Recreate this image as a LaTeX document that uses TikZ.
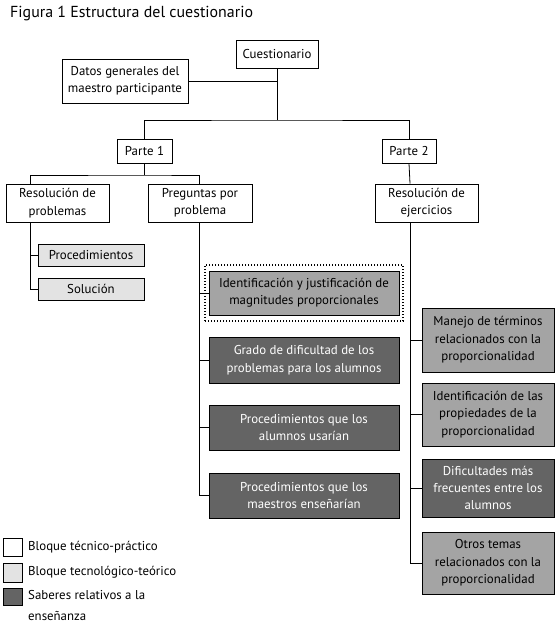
\documentclass[tikz,border=0pt]{standalone}
\usepackage{fontspec}
\setmainfont{PT Sans}
\usetikzlibrary{positioning,fit}

\definecolor{lightbox}{HTML}{E3E3E3}
\definecolor{midbox}{HTML}{A4A4A4}
\definecolor{darkbox}{HTML}{646464}

\tikzset{
  box/.style={draw, line width=0.8bp, fill=white, align=center, inner sep=0pt,
    font=\fontsize{12.9}{17.5}\selectfont},
  teo/.style={box, fill=lightbox},
  mid/.style={box, fill=midbox},
  ens/.style={box, fill=darkbox, text=white},
  conn/.style={line width=0.8bp},
  legtext/.style={anchor=west, inner sep=0pt, align=left, font=\fontsize{12.9}{21}\selectfont}
}

\begin{document}
\begin{tikzpicture}[x=1bp,y=-1bp]
\useasboundingbox (0,0) rectangle (558,628);
\node[anchor=base west, inner sep=0pt, font=\fontsize{16}{19}\selectfont] (title) at (10,18) {Figura 1 Estructura del cuestionario};
% top level
\node[box, minimum width=82bp, minimum height=28bp] (cuest) at (277,54) {Cuestionario};
\node[box, minimum width=126bp, minimum height=44bp] (datos) at (125,81) {Datos generales del\\maestro participante};
\node[box, minimum width=55bp, minimum height=24bp] (parte1) at (144.5,151) {Parte 1};
\node[box, minimum width=54bp, minimum height=24bp] (parte2) at (409,151) {Parte 2};
% parte 1
\node[box, minimum width=103bp, minimum height=38bp] (resprob) at (57.5,203) {Resolución de\\problemas};
\node[box, minimum width=104bp, minimum height=38bp] (preg) at (200,203) {Preguntas por\\problema};
\node[teo, minimum width=106bp, minimum height=22bp] (proced) at (91,255) {Procedimientos};
\node[teo, minimum width=106bp, minimum height=22bp] (sol) at (91,289) {Solución};
\node[mid, minimum width=190bp, minimum height=44bp] (ident) at (304,293) {Identificación y justificación de\\magnitudes proporcionales};
\node[draw, line width=1.3bp, dash pattern=on 1.3bp off 1.7bp, inner sep=0pt, minimum width=198bp, minimum height=56bp] (marco) at (304,293) {};
\node[ens, minimum width=190bp, minimum height=46bp] (grado) at (304,360) {Grado de dificultad de los\\problemas para los alumnos};
\node[ens, minimum width=190bp, minimum height=45bp] (procal) at (304,427.5) {Procedimientos que los\\alumnos usarían};
\node[ens, minimum width=190bp, minimum height=45bp] (procma) at (304,495.5) {Procedimientos que los\\maestros enseñarían};
% parte 2
\node[box, minimum width=103bp, minimum height=38bp] (resej) at (426.5,203) {Resolución de\\ejercicios};
\node[mid, minimum width=132bp, minimum height=64bp] (manejo) at (488,340) {Manejo de términos\\relacionados con la\\proporcionalidad};
\node[mid, minimum width=132bp, minimum height=63bp] (idprop) at (488,414.5) {Identificación de las\\propiedades de la\\proporcionalidad};
\node[ens, minimum width=132bp, minimum height=58bp] (dific) at (488,488) {Dificultades más\\frecuentes entre los\\alumnos};
\node[mid, minimum width=132bp, minimum height=62bp] (otros) at (488,563) {Otros temas\\relacionados con la\\proporcionalidad};
% connectors
\coordinate (rama) at (277,120);
\coordinate (rama1) at (144.5,175);
\coordinate (rp) at (30,222);
\coordinate (pq) at (199,222);
\coordinate (re) at (410,222);
\draw[conn] (cuest.south) -- (rama);
\draw[conn] (datos.east) -- (datos.east -| rama);
\draw[conn] (parte1.north) |- (rama) -| (parte2.north);
\draw[conn] (parte1.south) -- (rama1);
\draw[conn] (resprob.north -| rp) |- (rama1) -| (preg.north -| pq);
\draw[conn] (parte2.south) -- (resej.north -| re);
\draw[conn] (rp) |- (sol.west);
\draw[conn] (rp |- proced.west) -- (proced.west);
\draw[conn] (pq) |- (procma.west);
\draw[conn] (pq |- ident.west) -- (ident.west);
\draw[conn] (pq |- grado.west) -- (grado.west);
\draw[conn] (pq |- procal.west) -- (procal.west);
\draw[conn] (re) |- (otros.west);
\draw[conn] (re |- manejo.west) -- (manejo.west);
\draw[conn] (re |- idprop.west) -- (idprop.west);
\draw[conn] (re |- dific.west) -- (dific.west);
% legend
\node[box, minimum width=19bp, minimum height=18bp] (leg1) at (12.5,547) {};
\node[teo, minimum width=19bp, minimum height=19bp] (leg2) at (12.5,572.5) {};
\node[ens, minimum width=19bp, minimum height=17bp] (leg3) at (12.5,596.5) {};
\node[legtext] (leg1t) at (28,547) {Bloque técnico-práctico};
\node[legtext] (leg2t) at (28,572.5) {Bloque tecnológico-teórico};
\node[legtext, anchor=north west] (leg3t) at (28,590) {Saberes relativos a la\\enseñanza};
\end{tikzpicture}
\end{document}
